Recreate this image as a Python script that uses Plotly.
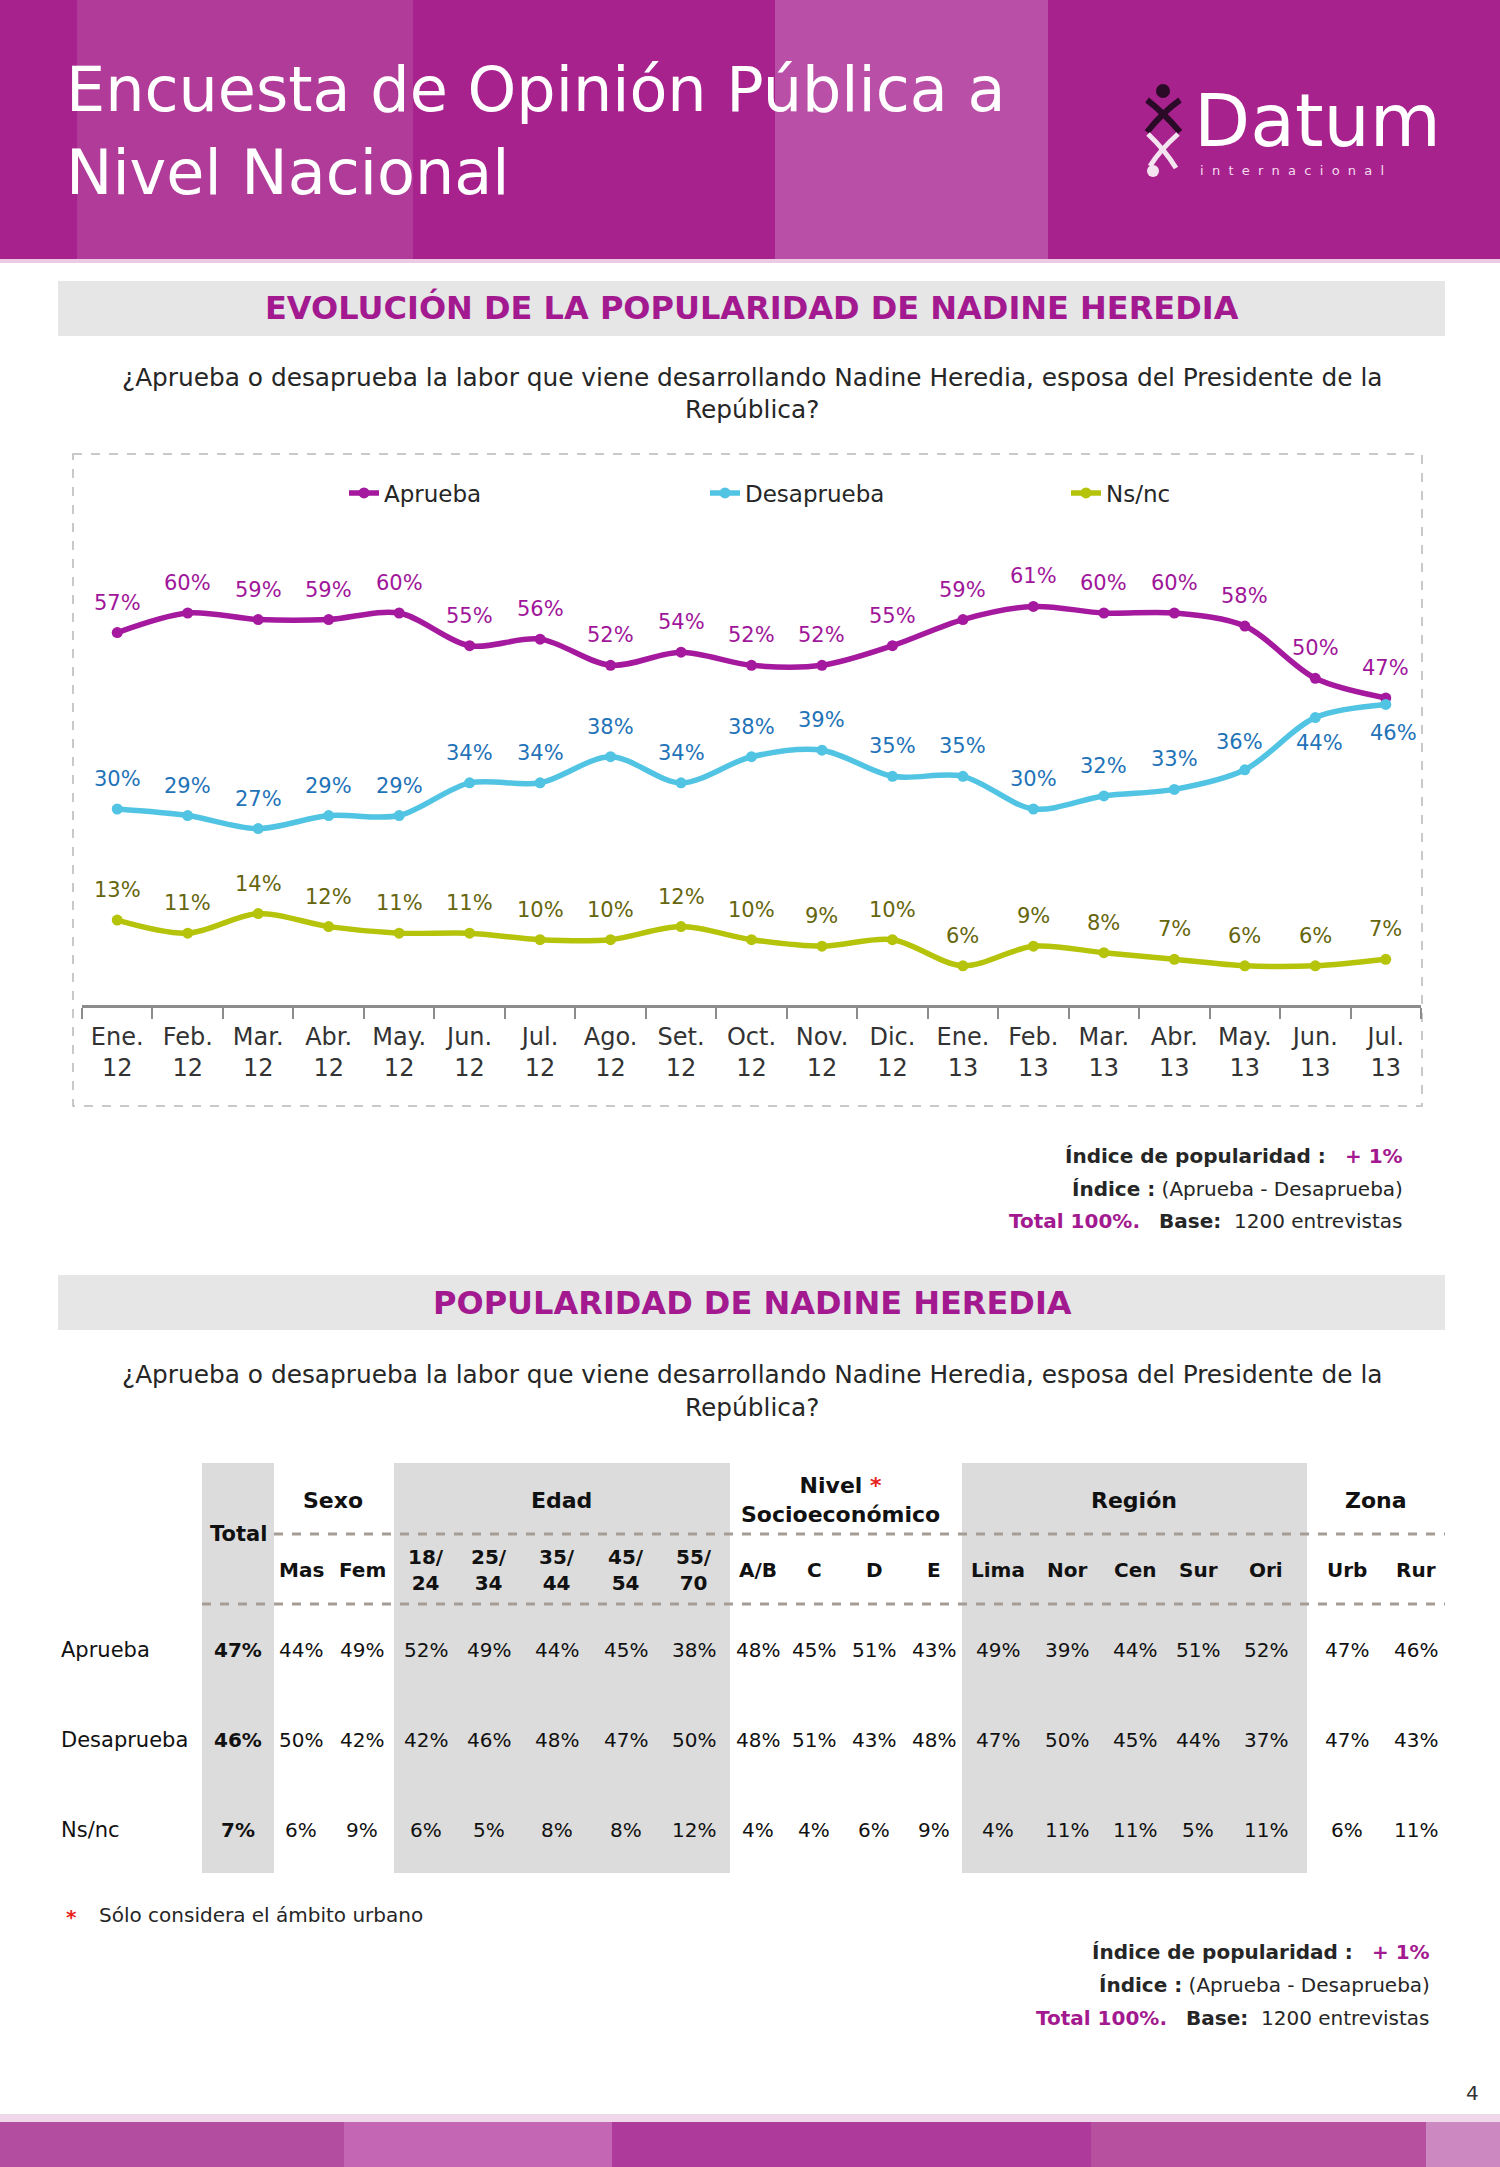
import plotly.graph_objects as go

W, H = 1500, 2167
FONT = "DejaVu Sans"

# ---------------- data ----------------
months = ["Ene.", "Feb.", "Mar.", "Abr.", "May.", "Jun.", "Jul.", "Ago.", "Set.", "Oct.",
          "Nov.", "Dic.", "Ene.", "Feb.", "Mar.", "Abr.", "May.", "Jun.", "Jul."]
years = ["12"] * 12 + ["13"] * 7
aprueba = [57, 60, 59, 59, 60, 55, 56, 52, 54, 52, 52, 55, 59, 61, 60, 60, 58, 50, 47]
desaprueba = [30, 29, 27, 29, 29, 34, 34, 38, 34, 38, 39, 35, 35, 30, 32, 33, 36, 44, 46]
nsnc = [13, 11, 14, 12, 11, 11, 10, 10, 12, 10, 9, 10, 6, 9, 8, 7, 6, 6, 7]

row_labels = ["Aprueba", "Desaprueba", "Ns/nc"]
total_col = [47, 46, 7]
group_labels = ["Sexo", "Edad", "Nivel <span style='color:#E8231E'>*</span><br>Socioeconómico", "Región", "Zona"]
sub_labels = [["Mas", "Fem"],
              ["18/<br>24", "25/<br>34", "35/<br>44", "45/<br>54", "55/<br>70"],
              ["A/B", "C", "D", "E"],
              ["Lima", "Nor", "Cen", "Sur", "Ori"],
              ["Urb", "Rur"]]
aprueba_seg = [44, 49, 52, 49, 44, 45, 38, 48, 45, 51, 43, 49, 39, 44, 51, 52, 47, 46]
desaprueba_seg = [50, 42, 42, 46, 48, 47, 50, 48, 51, 43, 48, 47, 50, 45, 44, 37, 47, 43]
nsnc_seg = [6, 9, 6, 5, 8, 8, 12, 4, 4, 6, 9, 4, 11, 11, 5, 11, 6, 11]

# ---------------- style ----------------
PURPLE = "#A3198F"
DARK = "#262626"
series = [("Aprueba", aprueba, "#A4199D", "#A0169A"),
          ("Desaprueba", desaprueba, "#52C4E3", "#1F73B8"),
          ("Ns/nc", nsnc, "#B6C30B", "#66660E")]
# label offsets (xshift, yshift) in px; default above the point
label_default = (0, 30)
label_special = {("Desaprueba", 16): (-5, 28), ("Desaprueba", 17): (4, -25), ("Desaprueba", 18): (8, -29)}


def X(px):
    return px / W


def Y(py):
    return 1 - py / H


def ann(x, y, text, size, color=DARK, xanchor="center", yanchor="middle", align="center"):
    return dict(x=X(x), y=Y(y), xref="paper", yref="paper", text=text, showarrow=False,
                font=dict(size=size, color=color, family=FONT), xanchor=xanchor,
                yanchor=yanchor, align=align)


def rect(x0, y0, x1, y1, fill, line=None, layer="below"):
    d = dict(type="rect", xref="paper", yref="paper", x0=X(x0), x1=X(x1), y0=Y(y0), y1=Y(y1),
             fillcolor=fill, layer=layer, line=dict(width=0))
    if line:
        d["line"] = line
    return d


fig = go.Figure()
cats = [f"{m}<br>{y}" for m, y in zip(months, years)]
annotations = []
shapes = []

for name, vals, lc, tc in series:
    fig.add_trace(go.Scatter(x=cats, y=vals, name=name, mode="lines+markers",
                             line=dict(color=lc, width=5.5, shape="spline", smoothing=0.9),
                             marker=dict(size=11, color=lc)))
    for i, v in enumerate(vals):
        xs, ys = label_special.get((name, i), label_default)
        annotations.append(dict(x=cats[i], y=v, xref="x", yref="y", text=f"{v}%", showarrow=False,
                                xshift=xs, yshift=ys, font=dict(size=21, color=tc, family=FONT)))

# ---------------- header ----------------
shapes.append(rect(0, 0, 1500, 259, "#A8228D"))
shapes.append(rect(77, 0, 413, 259, "#B03B98"))
shapes.append(rect(775, 0, 1048, 259, "#B94FA6"))
shapes.append(rect(0, 259, 1500, 263, "#EBCBE3"))
annotations.append(ann(64, 89, "Encuesta de Opinión Pública a", 62, "white", xanchor="left"))
annotations.append(ann(64, 173, "Nivel Nacional", 62, "white", xanchor="left"))
# logo
annotations.append(ann(1192, 120, "Datum", 73, "white", xanchor="left"))
annotations.append(ann(1198, 170, "\u00a0\u00a0".join("internacional"), 13, "#F3DDEE", xanchor="left"))
shapes.append(dict(type="circle", xref="paper", yref="paper", x0=X(1156), x1=X(1170), y0=Y(84), y1=Y(98),
                   fillcolor="#2B0A28", line=dict(width=0)))
shapes.append(dict(type="path", xref="paper", yref="paper",
                   path=f"M {X(1147)},{Y(100)} Q {X(1163)},{Y(112)} {X(1180)},{Y(132)}",
                   line=dict(color="#2B0A28", width=6)))
shapes.append(dict(type="path", xref="paper", yref="paper",
                   path=f"M {X(1180)},{Y(100)} Q {X(1163)},{Y(112)} {X(1147)},{Y(132)}",
                   line=dict(color="#2B0A28", width=6)))
shapes.append(dict(type="path", xref="paper", yref="paper",
                   path=f"M {X(1148)},{Y(134)} Q {X(1165)},{Y(150)} {X(1176)},{Y(168)}",
                   line=dict(color="#F4E4F0", width=5)))
shapes.append(dict(type="path", xref="paper", yref="paper",
                   path=f"M {X(1178)},{Y(134)} Q {X(1160)},{Y(150)} {X(1150)},{Y(166)}",
                   line=dict(color="#F4E4F0", width=5)))
shapes.append(dict(type="circle", xref="paper", yref="paper", x0=X(1147), x1=X(1159), y0=Y(165), y1=Y(177),
                   fillcolor="#F4E4F0", line=dict(width=0)))

# ---------------- section 1 ----------------
shapes.append(rect(58, 281, 1445, 336, "#E6E6E6"))
annotations.append(ann(752, 308, "<b>EVOLUCIÓN DE LA POPULARIDAD DE NADINE HEREDIA</b>", 32, PURPLE))
annotations.append(ann(752, 377, "¿Aprueba o desaprueba la labor que viene desarrollando Nadine Heredia, esposa del Presidente de la", 24.8))
annotations.append(ann(752, 410, "República?", 24.8))
shapes.append(dict(type="rect", xref="paper", yref="paper", x0=X(73), x1=X(1422), y0=Y(454), y1=Y(1106),
                   line=dict(color="#B8B8B8", width=1.5, dash="dash"), fillcolor="rgba(0,0,0,0)", layer="below"))

nb = "\u00a0"
annotations.append(ann(1405, 1156, f"<b>Índice de popularidad :</b>{nb*3}<span style='color:{PURPLE}'><b>+ 1%</b></span>", 20, xanchor="right"))
annotations.append(ann(1405, 1189, "<b>Índice :</b> (Aprueba - Desaprueba)", 20, xanchor="right"))
annotations.append(ann(1405, 1221, f"<span style='color:{PURPLE}'><b>Total 100%.</b></span>{nb*3}<b>Base:</b>{nb*2}1200 entrevistas", 20, xanchor="right"))

# ---------------- section 2 ----------------
shapes.append(rect(58, 1275, 1445, 1330, "#E6E6E6"))
annotations.append(ann(752, 1303, "<b>POPULARIDAD DE NADINE HEREDIA</b>", 32, PURPLE))
annotations.append(ann(752, 1374, "¿Aprueba o desaprueba la labor que viene desarrollando Nadine Heredia, esposa del Presidente de la", 24.8))
annotations.append(ann(752, 1407, "República?", 24.8))

# table layout
col_x = [[301, 362], [426, 489, 557, 626, 694], [758, 814, 874, 934], [998, 1067, 1135, 1198, 1266], [1347, 1416]]
group_x = [333, 561, 840, 1134, 1376]
row_y = [1650, 1740, 1830]
TABLE_GRAY = "#DCDCDC"
shapes.append(rect(202, 1463, 274, 1873, TABLE_GRAY))
shapes.append(rect(394, 1463, 730, 1873, TABLE_GRAY))
shapes.append(rect(962, 1463, 1307, 1873, TABLE_GRAY))
dash_line = dict(color="#A59D95", width=3, dash="dash")
shapes.append(dict(type="line", xref="paper", yref="paper", x0=X(274), x1=X(1445), y0=Y(1534), y1=Y(1534), line=dash_line))
shapes.append(dict(type="line", xref="paper", yref="paper", x0=X(202), x1=X(1445), y0=Y(1604), y1=Y(1604), line=dash_line))

annotations.append(ann(238, 1534, "<b>Total</b>", 21, "#111"))
for g, gx in zip(group_labels, group_x):
    annotations.append(ann(gx, 1500, f"<b>{g}</b>", 22, "#111"))
flat_x = [x for grp in col_x for x in grp]
flat_sub = [s for grp in sub_labels for s in grp]
for s, sx in zip(flat_sub, flat_x):
    annotations.append(ann(sx, 1570, f"<b>{s}</b>", 20, "#111"))

seg_rows = [aprueba_seg, desaprueba_seg, nsnc_seg]
for lab, ry, tot, seg in zip(row_labels, row_y, total_col, seg_rows):
    annotations.append(ann(59, ry, lab, 21, "#111", xanchor="left"))
    annotations.append(ann(238, ry, f"<b>{tot}%</b>", 20, "#111"))
    for v, sx in zip(seg, flat_x):
        annotations.append(ann(sx, ry, f"{v}%", 20, "#111"))

annotations.append(ann(64, 1917, "<b>*</b>", 20, "#E8231E", xanchor="left"))
annotations.append(ann(97, 1915, "Sólo considera el ámbito urbano", 20, xanchor="left"))
annotations.append(ann(1432, 1952, f"<b>Índice de popularidad :</b>{nb*3}<span style='color:{PURPLE}'><b>+ 1%</b></span>", 20, xanchor="right"))
annotations.append(ann(1432, 1985, "<b>Índice :</b> (Aprueba - Desaprueba)", 20, xanchor="right"))
annotations.append(ann(1432, 2018, f"<span style='color:{PURPLE}'><b>Total 100%.</b></span>{nb*3}<b>Base:</b>{nb*2}1200 entrevistas", 20, xanchor="right"))
annotations.append(ann(1472, 2093, "4", 20, "#333"))

# footer band
shapes.append(rect(0, 2114, 1500, 2122, "#F0D8EA"))
shapes.append(rect(0, 2122, 344, 2167, "#B34DA0"))
shapes.append(rect(344, 2122, 612, 2167, "#C466B3"))
shapes.append(rect(612, 2122, 1091, 2167, "#AE3A9C"))
shapes.append(rect(1091, 2122, 1426, 2167, "#B7519F"))
shapes.append(rect(1426, 2122, 1500, 2167, "#CC88C0"))

fig.update_layout(
    width=W, height=H, margin=dict(l=0, r=0, t=0, b=0, autoexpand=False),
    paper_bgcolor="white", plot_bgcolor="rgba(0,0,0,0)",
    showlegend=True,
    legend=dict(orientation="h", x=X(344), y=Y(493), xanchor="left", yanchor="middle",
                font=dict(size=23, color=DARK, family=FONT), entrywidth=316, entrywidthmode="pixels",
                bgcolor="rgba(0,0,0,0)"),
    xaxis=dict(domain=[X(82), X(1421)], type="category", range=[-0.5, 18.5], showline=True,
               linecolor="#8C8C8C", linewidth=2.5, ticks="outside", tickson="boundaries", ticklen=11,
               tickcolor="#8C8C8C", tickwidth=2, tickangle=0, ticklabelstandoff=8,
               tickfont=dict(size=24, color="#333", family=FONT),
               showgrid=False, fixedrange=True),
    yaxis=dict(domain=[Y(1005), Y(515)], range=[0, 75], visible=False, showgrid=False, fixedrange=True),
    annotations=annotations, shapes=shapes,
)

fig.write_html("out.html", config={"displayModeBar": False},
               post_script="document.body.style.margin='0';document.body.style.overflow='hidden';")
